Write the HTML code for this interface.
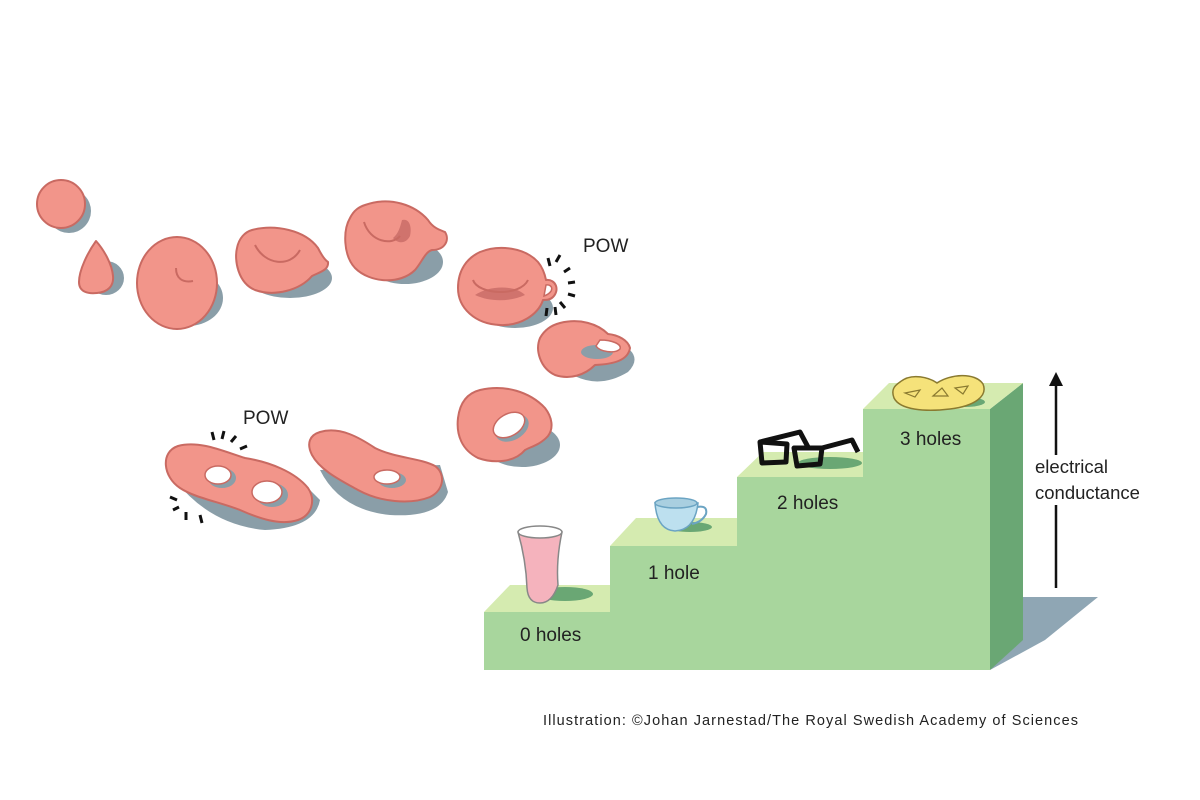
<!DOCTYPE html>
<html><head><meta charset="utf-8"><style>
html,body{margin:0;padding:0;background:#fff;}
svg{display:block;}
text{font-family:"Liberation Sans",sans-serif;fill:#222;}
</style></head><body>
<svg width="1200" height="800" viewBox="0 0 1200 800" xmlns="http://www.w3.org/2000/svg">
<g fill="#8a9ea8">
 <circle cx="69" cy="211" r="22"/>
 <ellipse cx="106" cy="278" rx="18" ry="17"/>
 <ellipse cx="188" cy="298" rx="35" ry="28"/>
 <ellipse cx="290" cy="278" rx="42" ry="20"/>
 <ellipse cx="405" cy="262" rx="38" ry="22"/>
 <ellipse cx="515" cy="308" rx="38" ry="20"/>
 <path d="M555 362 Q590 395 628 372 Q640 360 630 350 Q610 355 590 362 Z"/>
 <ellipse cx="522" cy="445" rx="38" ry="22"/>
 <path d="M320 470 Q340 510 390 515 Q440 518 448 492 L440 465 Z"/>
 <path d="M175 480 Q210 525 265 530 Q315 528 320 500 L300 480 Z"/>
</g>
<g fill="#f2958a" stroke="#c96a62" stroke-width="2" stroke-linejoin="round">
 <circle cx="61" cy="204" r="24"/>
 <path d="M96 241 C88 252 79 270 79 282 C79 292 88 294 97 293 C108 292 114 286 113 276 C112 264 104 250 96 241 Z"/>
 <ellipse cx="177" cy="283" rx="40" ry="46"/>
 <path d="M252 230 C275 224 305 230 318 248 C322 256 325 260 328 262 C329 270 320 272 312 276 C300 290 275 297 255 290 C238 283 234 260 237 248 C239 238 245 232 252 230 Z"/>
 <path d="M365 205 C390 196 415 205 428 220 C433 228 440 230 445 232 C450 240 445 250 432 250 C425 252 422 262 415 270 C400 285 370 283 355 268 C343 255 343 230 350 218 C354 210 359 207 365 205 Z"/>
 <path d="M480 252 C500 244 525 248 538 262 C543 268 545 275 546 280 C556 279 560 290 553 297 C550 300 546 300 543 300 C538 315 520 326 500 325 C475 324 458 308 458 288 C458 270 467 258 480 252 Z"/>
 <path d="M560 323 C580 318 598 324 608 334 C618 335 628 340 630 348 C628 360 615 364 595 365 C585 375 570 380 555 375 C540 368 535 350 540 338 C545 329 552 325 560 323 Z"/>
 <path d="M480 390 C505 384 530 392 545 408 C552 417 554 428 548 436 C540 445 530 447 525 450 C515 462 495 464 478 458 C462 450 456 435 458 418 C460 402 468 393 480 390 Z"/>
 <path d="M320 432 C340 426 360 438 375 448 C395 458 420 458 435 466 C446 474 444 490 430 497 C410 505 380 502 358 490 C340 480 320 470 312 455 C306 443 310 435 320 432 Z"/>
 <path d="M178 446 C200 440 225 452 245 458 C270 462 295 472 308 488 C316 500 312 515 298 520 C280 526 258 518 240 510 C220 502 195 498 180 488 C163 477 160 452 178 446 Z"/>
</g>
<g fill="#8a9ea8">
 <ellipse cx="512" cy="428" rx="18" ry="12" transform="rotate(-30 512 428)"/>
 <ellipse cx="392" cy="480" rx="14" ry="8"/>
 <ellipse cx="222" cy="478" rx="14" ry="10"/>
 <ellipse cx="272" cy="495" rx="16" ry="12"/>
 <ellipse cx="597" cy="352" rx="16" ry="7"/>
</g>
<g fill="#fff" stroke="#c96a62" stroke-width="1.5">
 <ellipse cx="509" cy="425" rx="17" ry="11" transform="rotate(-30 509 425)"/>
 <ellipse cx="387" cy="477" rx="13" ry="7"/>
 <ellipse cx="218" cy="475" rx="13" ry="9"/>
 <ellipse cx="267" cy="492" rx="15" ry="11"/>
 <path d="M546 285 C553 284 555 292 544 296 Z"/>
 <path d="M600 340 C612 340 622 344 620 349 C615 354 600 352 596 346 Z"/>
</g>
<g fill="#d0736d" stroke="none">
 <path d="M475 295 C490 285 515 285 525 295 C510 302 490 302 475 295 Z"/>
 <path d="M402 220 C410 218 412 228 410 236 C406 244 398 244 393 238 C398 234 400 228 402 220 Z"/>
</g>
<g fill="none" stroke="#c96a62" stroke-width="2">
 <path d="M176 268 C176 278 182 283 193 281"/>
 <path d="M255 245 C265 265 290 268 300 250"/>
 <path d="M364 222 C370 242 392 246 400 236"/>
 <path d="M473 280 C478 295 520 297 528 280"/>
</g>
<g stroke="#111" stroke-width="3">
 <path d="M548 258 L550 266 M560 255 L556 262 M570 268 L564 272 M575 282 L568 283 M575 296 L568 294 M565 308 L560 302 M556 315 L555 307 M546 316 L547 308"/>
 <path d="M212 432 L214 440 M224 431 L222 439 M236 436 L231 442 M247 446 L240 449 M170 497 L177 500 M173 510 L179 507 M186 520 L186 512 M202 523 L200 515"/>
</g>
<text x="583" y="252" font-size="19">POW</text>
<text x="243" y="424" font-size="19">POW</text>

<polygon points="1023,597 1098,597 1045,640 990,670" fill="#8fa6b4"/>
<polygon points="990,409 1023,383 1023,640 990,670" fill="#6aa774"/>
<polygon points="484,612 510,585 636,585 610,612" fill="#d5ebb0"/>
<polygon points="610,546 636,518 763,518 737,546" fill="#d5ebb0"/>
<polygon points="737,477 763,452 889,452 863,477" fill="#d5ebb0"/>
<polygon points="863,409 889,383 1023,383 990,409" fill="#d5ebb0"/>
<polygon points="484,612 610,612 610,546 737,546 737,477 863,477 863,409 990,409 990,670 484,670" fill="#a8d69d"/>

<g fill="#6aa774">
 <ellipse cx="565" cy="594" rx="28" ry="7"/>
 <ellipse cx="690" cy="527" rx="22" ry="5"/>
 <ellipse cx="830" cy="463" rx="32" ry="6"/>
 <ellipse cx="965" cy="402" rx="20" ry="5"/>
</g>
<path d="M518 532 Q540 523 562 532 Q556 560 558 585 Q552 603 540 603 Q528 603 527 588 Q526 560 518 532 Z" fill="#f5b3bd" stroke="#888" stroke-width="1.5"/>
<ellipse cx="540" cy="532" rx="22" ry="6" fill="#fff" stroke="#888" stroke-width="1.5"/>
<path d="M655 503 Q657 530 675 531 Q695 530 698 503 Z" fill="#bde0ef" stroke="#6ba4c3" stroke-width="1.5"/>
<path d="M697 507 Q708 505 706 514 Q702 522 692 524" fill="none" stroke="#6ba4c3" stroke-width="2"/>
<ellipse cx="676" cy="503" rx="21" ry="5" fill="#a9cfe0" stroke="#6ba4c3" stroke-width="1.5"/>
<g fill="none" stroke="#111" stroke-width="5" stroke-linejoin="round">
 <path d="M760 442 L762 463 L786 462 L787 444 Z"/>
 <path d="M794 448 L797 466 L820 464 L822 448 Z"/>
 <path d="M760 442 L800 432 L808 447 M822 448 L852 440 L858 452"/>
</g>
<path d="M900 382 C912 372 930 378 937 383 C950 374 975 372 983 384 C988 396 975 406 950 409 C925 412 900 410 894 398 C891 390 894 386 900 382 Z" fill="#f5e27a" stroke="#8a7a30" stroke-width="1.5"/>
<g fill="none" stroke="#8a7a30" stroke-width="1.2">
 <path d="M905 393 L920 390 L915 397 Z M933 396 L942 388 L948 396 Z M955 388 L968 386 L963 394 Z"/>
</g>

<text x="520" y="641" font-size="19">0 holes</text>
<text x="648" y="579" font-size="19">1 hole</text>
<text x="777" y="509" font-size="19">2 holes</text>
<text x="900" y="445" font-size="19">3 holes</text>

<line x1="1056" y1="588" x2="1056" y2="505" stroke="#111" stroke-width="2.5"/>
<line x1="1056" y1="455" x2="1056" y2="385" stroke="#111" stroke-width="2.5"/>
<polygon points="1049,386 1063,386 1056,372" fill="#111"/>
<text x="1035" y="473" font-size="18.5">electrical</text>
<text x="1035" y="499" font-size="18.5">conductance</text>

<text x="543" y="725" font-size="14.5" textLength="535" lengthAdjust="spacing">Illustration: ©Johan Jarnestad/The Royal Swedish Academy of Sciences</text>
</svg>
</body></html>
